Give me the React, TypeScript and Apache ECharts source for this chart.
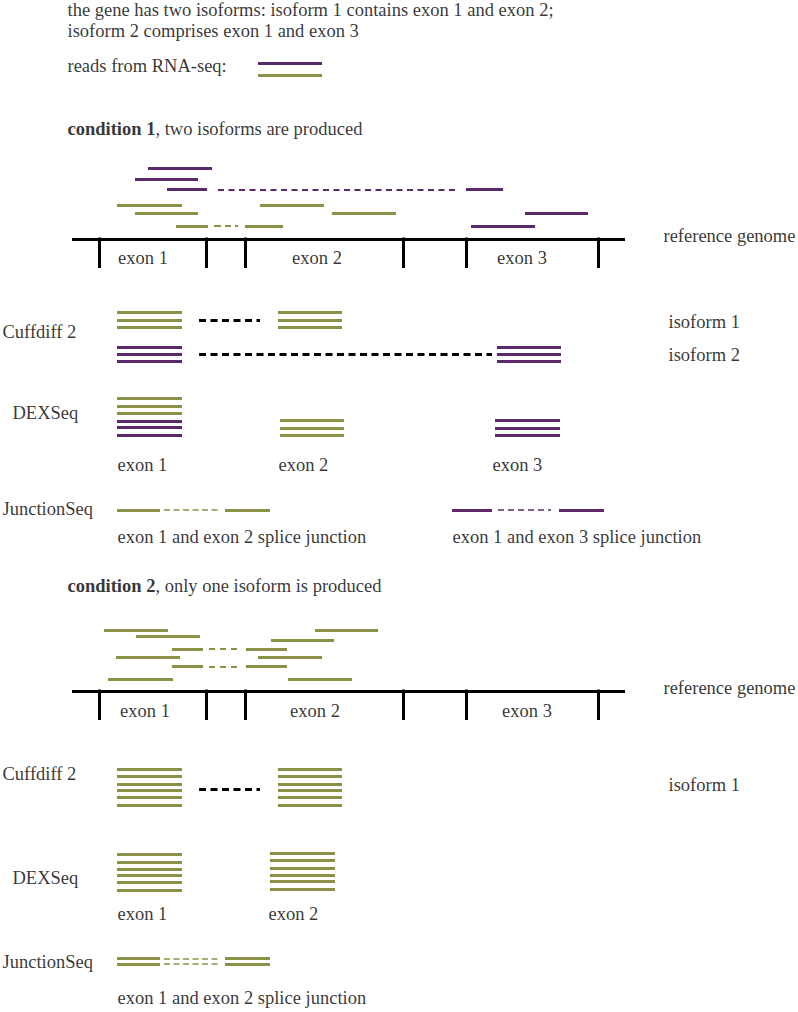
import React, { useEffect, useRef } from "react";
import * as echarts from "echarts";

const PURPLE = "#5c2a6c";
const OLIVE = "#8b9146";
const BLACK = "#000000";
const FONT = "Liberation Serif, serif";

// segments: [x1, x2, y]
type Seg = [number, number, number];

const legendPurple: Seg[] = [[258, 322, 63]];
const legendOlive: Seg[] = [[258, 322, 75]];

// condition 1 reads
const c1PurpleSolid: Seg[] = [
  [148, 212, 168], [135, 198, 179], [167, 207, 189.5], [466, 503, 189.5],
  [525, 588, 213.5], [471, 535, 226],
];
const c1PurpleDashed: Seg[] = [[218, 458, 189.5]];
const c1OliveSolid: Seg[] = [
  [117, 182, 205], [260, 324, 205], [135, 198, 213.5], [332, 396, 213.5],
  [176, 208, 226], [245, 283, 226],
];
const c1OliveDashed: Seg[] = [[214, 240, 226]];

// reference genome (cond 1 at y 239, cond 2 at y 691)
const genomeLines: Seg[] = [[72, 625, 239], [72, 625, 691]];
const tickX: number[] = [99, 206, 245, 403, 466, 598];
const genomeY: number[] = [239, 691];
const tickLen = 29;

// Cuffdiff 2, condition 1
const c1CuffOlive: Seg[] = [
  [117, 182, 312.7], [117, 182, 320], [117, 182, 327.3],
  [278, 342, 312.7], [278, 342, 320], [278, 342, 327.3],
];
const c1CuffPurple: Seg[] = [
  [117, 182, 347.3], [117, 182, 354], [117, 182, 361.3],
  [497, 561, 347.3], [497, 561, 354], [497, 561, 361.3],
];
const c1CuffBlackDash: Seg[] = [[199, 260, 320], [199, 492, 354]];

// DEXSeq, condition 1
const c1DexOlive: Seg[] = [
  [117, 182, 398.3], [117, 182, 406], [117, 182, 413.3],
  [280, 344, 420.7], [280, 344, 428], [280, 344, 435],
];
const c1DexPurple: Seg[] = [
  [117, 182, 421], [117, 182, 427.7], [117, 182, 435],
  [495, 560, 420.7], [495, 560, 428], [495, 560, 435],
];

// JunctionSeq, condition 1
const c1JuncOliveSolid: Seg[] = [[117, 160, 510], [225, 270, 510]];
const c1JuncOliveDash: Seg[] = [[164, 221, 510]];
const c1JuncPurpleSolid: Seg[] = [[452, 492, 510], [559, 604, 510]];
const c1JuncPurpleDash: Seg[] = [[498, 551, 510]];

// condition 2 reads
const c2OliveSolid: Seg[] = [
  [104, 168, 630.7], [315, 378, 630.7], [136, 200, 636.7], [271, 334, 640],
  [172, 203, 649], [246, 287, 649], [116, 180, 657.7], [258, 322, 657.7],
  [172, 203, 666.7], [246, 287, 666.7], [108, 173, 679], [288, 352, 679],
];
const c2OliveDashed: Seg[] = [[209, 240, 649], [209, 240, 666.7]];

// Cuffdiff 2, condition 2
const c2CuffOlive: Seg[] = [
  [117, 182, 769.3], [117, 182, 776.7], [117, 182, 784], [117, 182, 790.7], [117, 182, 797.7], [117, 182, 805],
  [278, 342, 769.3], [278, 342, 776.7], [278, 342, 784], [278, 342, 790.7], [278, 342, 797.7], [278, 342, 805],
];
const c2CuffBlackDash: Seg[] = [[199, 260, 789.3]];

// DEXSeq, condition 2
const c2DexOlive: Seg[] = [
  [117, 182, 854.3], [117, 182, 862.3], [117, 182, 869], [117, 182, 875.7], [117, 182, 882.7], [117, 182, 890],
  [270, 335, 853.3], [270, 335, 860.7], [270, 335, 868.3], [270, 335, 875], [270, 335, 881.7], [270, 335, 889],
];

// JunctionSeq, condition 2
const c2JuncOliveSolid: Seg[] = [
  [117, 160, 958.3], [225, 270, 958.3], [117, 160, 964], [225, 270, 964],
];
const c2JuncOliveDash: Seg[] = [[164, 221, 958.3], [164, 221, 964]];

// texts: [x, y, text]
type Txt = [number, number, string];
const leftTexts: Txt[] = [
  [67, 10, "the gene has two isoforms: isoform 1 contains exon 1 and exon 2;"],
  [67, 31, "isoform 2 comprises exon 1 and exon 3"],
  [67, 66, "reads from RNA-seq:"],
  [663, 236, "reference genome"],
  [2, 332, "Cuffdiff 2"],
  [668, 322, "isoform 1"],
  [668, 355, "isoform 2"],
  [12, 413, "DEXSeq"],
  [117, 465, "exon 1"],
  [278, 465, "exon 2"],
  [492, 465, "exon 3"],
  [2, 509, "JunctionSeq"],
  [117, 537, "exon 1 and exon 2 splice junction"],
  [452, 537, "exon 1 and exon 3 splice junction"],
  [663, 688, "reference genome"],
  [2, 774, "Cuffdiff 2"],
  [668, 785, "isoform 1"],
  [12, 878, "DEXSeq"],
  [117, 914, "exon 1"],
  [268, 914, "exon 2"],
  [2, 962, "JunctionSeq"],
  [117, 998, "exon 1 and exon 2 splice junction"],
];
const centeredTexts: Txt[] = [
  [143, 258, "exon 1"],
  [317, 258, "exon 2"],
  [522, 258, "exon 3"],
  [145, 711, "exon 1"],
  [315, 711, "exon 2"],
  [527, 711, "exon 3"],
];
const conditionTitles: [number, number, string, string][] = [
  [67, 129, "condition 1", ", two isoforms are produced"],
  [67, 586, "condition 2", ", only one isoform is produced"],
];

function segSeries(segs: Seg[], color: string, width: number, dash?: number[] | "solid") {
  return {
    type: "lines",
    coordinateSystem: "cartesian2d",
    silent: true,
    polyline: false,
    lineStyle: {
      color,
      width,
      opacity: 1,
      type: dash && dash !== "solid" ? dash : "solid",
      cap: "butt",
    },
    data: segs.map(([x1, x2, y]) => ({ coords: [[x1, y], [x2, y]] })),
  };
}

function vSeries() {
  const data: any[] = [];
  genomeY.forEach((gy) => {
    tickX.forEach((tx) => {
      data.push({ coords: [[tx, gy - 1.5], [tx, gy + tickLen]] });
    });
  });
  return {
    type: "lines",
    coordinateSystem: "cartesian2d",
    silent: true,
    lineStyle: { color: BLACK, width: 3, opacity: 1, type: "solid" },
    data,
  };
}

const baseLabel = { fontFamily: FONT, fontSize: 18.5, color: "#000" };

export default function App() {
  const ref = useRef<HTMLDivElement>(null);
  useEffect(() => {
    if (!ref.current) return;
    const chart = echarts.init(ref.current, undefined, { renderer: "svg" });
    const option: any = {
      animation: false,
      backgroundColor: "#ffffff",
      grid: { left: 0, right: 0, top: 0, bottom: 0 },
      xAxis: { type: "value", min: 0, max: 798, show: false },
      yAxis: { type: "value", min: 0, max: 1012, inverse: true, show: false },
      series: [
        segSeries(legendPurple, PURPLE, 3),
        segSeries(legendOlive, OLIVE, 3),
        segSeries(c1PurpleSolid, PURPLE, 3),
        segSeries(c1PurpleDashed, PURPLE, 2, [6, 4.5]),
        segSeries(c1OliveSolid, OLIVE, 3),
        segSeries(c1OliveDashed, OLIVE, 2, [7, 4, 6, 4, 3, 2]),
        segSeries(genomeLines, BLACK, 3),
        vSeries(),
        segSeries(c1CuffOlive, OLIVE, 3),
        segSeries(c1CuffPurple, PURPLE, 3),
        segSeries(c1CuffBlackDash, BLACK, 3, [7, 4.5]),
        segSeries(c1DexOlive, OLIVE, 3),
        segSeries(c1DexPurple, PURPLE, 3),
        segSeries(c1JuncOliveSolid, OLIVE, 3),
        segSeries(c1JuncOliveDash, OLIVE, 1.5, [6, 3.5]),
        segSeries(c1JuncPurpleSolid, PURPLE, 3),
        segSeries(c1JuncPurpleDash, PURPLE, 1.5, [6, 4]),
        segSeries(c2OliveSolid, OLIVE, 3),
        segSeries(c2OliveDashed, OLIVE, 2, [6, 5]),
        segSeries(c2CuffOlive, OLIVE, 3),
        segSeries(c2CuffBlackDash, BLACK, 3, [7, 4.5]),
        segSeries(c2DexOlive, OLIVE, 3),
        segSeries(c2JuncOliveSolid, OLIVE, 3),
        segSeries(c2JuncOliveDash, OLIVE, 1.5, [6, 3.5]),
        {
          type: "scatter",
          silent: true,
          symbolSize: 1,
          itemStyle: { color: "rgba(0,0,0,0)" },
          data: [
            ...leftTexts.map(([x, y, t]) => ({
              value: [x, y],
              label: { show: true, position: "right", distance: 0, formatter: t, ...baseLabel },
            })),
            ...centeredTexts.map(([x, y, t]) => ({
              value: [x, y],
              label: { show: true, position: "inside", formatter: t, ...baseLabel },
            })),
            ...conditionTitles.map(([x, y, b, n]) => ({
              value: [x, y],
              label: {
                show: true,
                position: "right",
                distance: 0,
                formatter: "{b|" + b + "}{n|" + n + "}",
                rich: {
                  b: { ...baseLabel, fontWeight: "bold" },
                  n: { ...baseLabel },
                },
              },
            })),
          ],
        },
      ],
    };
    chart.setOption(option);
    return () => chart.dispose();
  }, []);
  return (
    <div
      ref={ref}
      style={{ position: "absolute", left: 0, top: 0, width: 798, height: 1012 }}
    />
  );
}
